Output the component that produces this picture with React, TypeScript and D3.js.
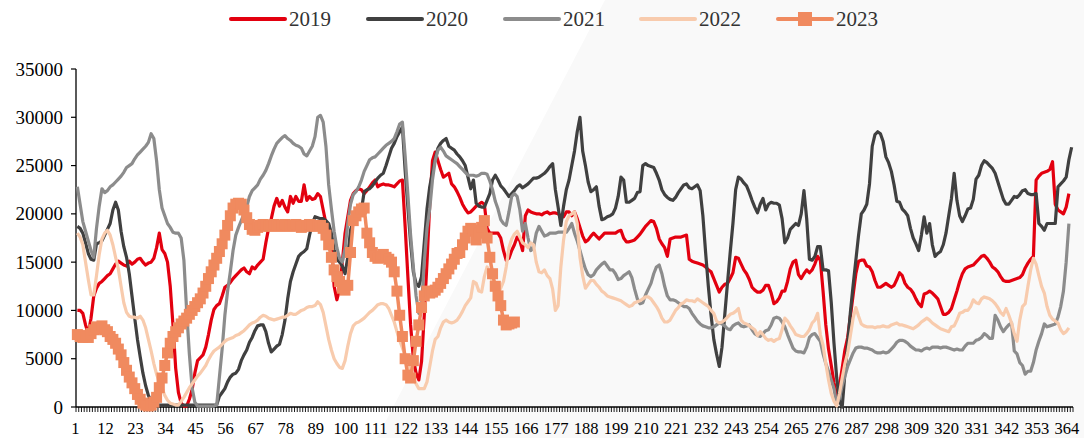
import React from 'react';
import * as d3 from 'd3';

// ---------- data (values in thousands, per day of year) ----------
const UNIT = 1000;
const DAY_COUNT = 365;
const X_TICK_DAYS = [1, 12, 23, 34, 45, 56, 67, 78, 89, 100, 111, 122, 133, 144, 155, 166, 177, 188, 199, 210, 221, 232, 243, 254, 265, 276, 287, 298, 309, 320, 331, 342, 353, 364];
const Y_TICKS = [0, 5000, 10000, 15000, 20000, 25000, 30000, 35000];
const SERIES_NAMES = ['2019', '2020', '2021', '2022', '2023'];

const V2019 = [
  10.0,10.0,9.7,8.5,7.6,9.2,11.5,12.3,12.8,13.0,
  13.3,13.6,13.8,14.3,14.8,15.1,14.9,14.7,14.6,15.1,
  14.8,15.0,15.3,15.4,15.0,14.7,14.9,15.0,15.4,16.5,
  18.0,16.3,15.9,15.0,12.5,8.5,4.0,1.5,0.4,0.1,
  0.1,0.8,1.8,3.5,4.8,5.1,5.4,6.2,7.5,9.0,
  10.1,10.5,10.7,11.5,12.4,12.6,12.9,13.3,13.6,13.9,
  14.2,14.4,14.0,13.8,14.5,14.3,14.7,15.0,15.3,17.0,
  18.5,19.5,20.8,21.6,20.8,21.4,20.7,20.2,21.8,21.1,
  21.8,21.3,21.3,23.0,21.4,21.8,21.5,21.6,22.1,21.8,
  20.4,19.0,18.6,17.0,12.5,11.1,12.2,15.0,18.0,19.7,
  21.4,22.1,22.4,22.6,22.5,22.1,22.4,22.8,23.2,23.5,
  22.8,23.0,23.1,23.0,23.0,22.9,22.8,23.1,23.4,23.5,
  18.7,13.5,8.5,5.0,3.5,2.8,4.7,9.5,15.0,21.0,
  25.5,26.4,25.5,24.6,23.8,24.0,24.2,23.1,22.8,22.3,
  21.7,21.0,20.5,20.1,20.2,20.5,20.8,21.0,21.2,21.0,
  18.5,18.0,18.0,18.0,18.0,17.5,16.2,15.2,15.4,16.2,
  16.8,17.6,17.2,16.2,19.8,20.4,20.2,20.1,20.0,20.0,
  19.9,20.1,20.2,20.0,20.1,20.1,20.0,19.8,19.7,20.2,
  20.2,19.8,20.2,19.5,18.6,17.7,17.1,17.3,17.7,18.0,
  17.7,17.4,17.7,18.0,18.0,18.0,18.0,18.0,18.2,18.3,
  17.5,17.1,17.1,17.2,17.3,17.6,17.9,18.3,18.7,19.0,
  19.3,19.2,18.5,17.4,16.9,16.5,15.6,17.4,17.5,17.6,
  17.6,17.6,17.7,17.8,15.3,15.1,15.0,14.9,14.8,14.7,
  14.5,14.2,14.0,13.3,12.6,11.9,12.4,12.7,12.8,13.3,
  13.9,15.5,15.4,14.8,14.2,13.8,13.2,12.4,12.1,11.9,
  11.9,12.1,12.6,12.6,11.8,10.7,10.9,11.3,12.0,12.0,
  13.0,14.3,15.0,15.2,13.7,13.3,13.8,14.2,13.9,14.2,
  14.8,15.6,15.2,12.0,8.5,6.0,4.3,2.5,1.2,2.2,
  4.0,5.9,7.2,9.4,11.6,13.8,15.1,15.2,15.2,14.6,
  14.5,14.0,13.1,12.4,12.4,12.6,12.8,12.6,12.4,12.6,
  13.2,13.9,13.6,12.8,12.4,12.2,11.8,11.2,10.7,10.4,
  11.7,11.8,12.0,11.8,11.5,11.2,10.4,9.6,9.6,9.8,
  10.2,11.1,12.0,13.0,13.8,14.3,14.5,14.6,14.7,15.0,
  15.3,15.6,15.7,15.4,15.0,14.5,14.3,14.0,13.5,13.1,
  13.0,13.0,13.1,13.2,13.3,13.4,13.7,14.4,14.9,15.3,
  15.6,23.5,23.9,24.2,24.3,24.4,24.6,25.4,21.0,20.4,
  20.2,20.0,20.7,22.1,
];

const V2020 = [
  18.7,18.5,18.0,17.0,15.9,15.3,15.2,16.9,17.0,17.2,
  17.8,18.4,19.0,20.4,21.2,20.4,18.2,16.6,15.5,13.8,
  11.5,9.2,7.0,5.2,3.5,2.2,1.2,0.6,0.3,0.2,
  0.2,0.2,0.2,0.2,0.2,0.2,0.2,0.2,0.2,0.2,
  0.2,0.2,0.2,0.2,0.2,0.2,0.2,0.2,0.2,0.2,
  0.2,0.2,1.1,1.5,1.9,2.6,3.1,3.4,3.5,3.9,
  4.8,5.4,5.9,6.7,7.2,7.9,8.4,8.5,8.5,7.8,
  6.6,5.7,6.0,6.3,6.5,7.5,9.0,11.2,13.0,14.0,
  14.8,15.6,15.9,16.1,16.4,17.8,19.0,19.7,19.6,19.5,
  19.5,19.3,19.0,18.0,16.3,15.3,15.0,14.6,13.8,15.5,
  18.3,19.3,20.0,20.2,20.4,22.3,22.5,22.6,22.9,23.3,
  23.7,24.0,24.2,25.0,25.9,26.8,27.3,28.0,28.5,29.0,
  24.5,20.7,17.0,14.0,12.8,12.5,13.5,17.0,20.5,22.8,
  24.3,25.7,26.8,27.3,27.6,27.8,27.0,26.8,26.6,26.2,
  25.9,25.5,25.0,23.8,22.6,23.5,21.1,20.8,20.7,20.7,
  21.4,22.1,23.5,24.0,23.5,22.9,22.6,22.2,21.8,22.1,
  22.4,22.8,23.0,22.7,22.9,23.1,23.4,23.7,23.7,23.8,
  24.0,24.2,24.5,24.9,25.2,22.5,20.7,18.8,20.8,22.5,
  23.5,25.0,26.5,28.5,30.0,26.5,25.0,23.3,22.3,22.5,
  22.8,20.8,19.4,19.5,19.7,19.8,20.0,20.6,21.8,23.8,
  23.5,21.2,21.2,21.4,21.6,22.2,22.3,25.0,25.2,25.0,
  24.9,24.8,24.2,23.5,22.5,22.0,21.7,21.5,21.4,21.7,
  22.2,22.6,23.0,23.1,22.7,22.6,22.8,23.0,22.4,19.8,
  16.0,12.5,9.5,7.0,5.5,4.2,6.2,9.5,12.8,16.0,
  19.0,22.5,23.8,23.6,23.2,22.9,22.2,21.4,20.7,20.1,
  21.0,21.6,20.4,21.0,21.2,21.1,21.1,20.9,19.5,17.0,
  17.5,18.4,18.7,19.0,18.8,20.0,22.4,19.5,15.3,15.2,
  15.6,16.6,16.6,14.2,14.2,14.1,10.8,6.6,3.0,0.6,
  0.0,3.5,6.5,9.8,12.6,15.2,17.8,20.0,20.4,21.0,
  23.1,27.0,28.2,28.5,28.3,27.5,25.9,25.3,24.4,23.0,
  21.3,21.2,20.5,20.2,19.8,18.5,17.5,16.9,16.2,17.8,
  19.7,18.0,19.0,16.8,15.6,15.9,16.1,16.8,18.0,19.8,
  21.6,24.2,21.4,19.8,19.2,19.8,20.5,20.6,21.5,23.6,
  24.0,25.0,25.5,25.3,25.0,24.7,24.2,23.3,22.4,21.5,
  21.0,21.0,21.4,21.8,21.7,22.0,22.4,22.5,22.1,22.0,
  22.0,22.1,19.0,18.7,18.3,19.0,19.0,19.0,19.0,22.8,
  23.1,23.4,23.8,25.6,26.9,
];

const V2021 = [
  22.8,21.0,19.2,18.2,17.2,16.2,15.5,18.5,20.8,22.6,
  22.2,22.4,22.8,23.0,23.3,23.6,23.9,24.3,24.8,25.0,
  25.2,25.7,26.1,26.4,26.7,27.0,27.4,28.3,27.8,25.5,
  22.5,20.6,19.8,19.0,18.6,18.1,18.0,18.0,17.5,15.2,
  10.0,5.5,2.0,0.5,0.1,0.1,0.1,0.1,0.1,0.1,
  0.1,0.2,3.1,6.0,9.5,12.0,14.0,16.2,17.8,18.6,
  19.3,20.0,20.7,21.8,22.4,22.7,23.0,23.6,24.0,24.5,
  25.2,26.0,26.7,27.3,27.6,27.9,28.1,27.8,27.6,27.3,
  27.1,27.0,26.8,26.2,26.0,26.5,27.0,28.0,30.0,30.2,
  29.5,27.0,23.0,20.5,18.2,16.5,15.4,15.0,16.4,19.0,
  21.0,22.0,22.3,22.8,23.5,24.4,25.0,25.6,25.8,25.9,
  26.2,26.5,26.8,27.1,27.3,27.5,27.8,28.5,29.3,29.5,
  26.0,22.0,17.8,14.5,11.5,9.7,10.5,15.0,18.5,20.5,
  23.5,25.5,26.6,26.9,26.5,26.0,25.8,25.6,25.4,25.2,
  24.9,24.6,24.3,24.0,24.0,24.0,23.9,24.0,24.2,24.2,
  24.1,23.4,22.5,21.3,20.5,19.4,19.0,18.8,20.2,21.8,
  22.1,21.8,20.4,18.2,19.0,17.5,16.2,16.5,18.0,18.7,
  18.2,17.7,17.8,18.0,18.0,18.0,18.1,18.1,18.1,18.1,
  18.5,19.0,18.0,17.2,16.2,15.2,14.3,13.7,13.5,13.7,
  14.2,14.5,14.8,15.0,14.6,14.2,14.2,13.8,13.2,13.3,
  13.6,13.8,14.0,13.4,12.2,11.2,10.7,10.8,11.6,12.2,
  12.8,13.8,14.5,14.7,13.8,12.5,11.5,11.1,11.1,11.0,
  10.8,10.6,10.4,10.4,10.2,9.7,9.3,8.9,8.6,8.4,
  8.3,8.2,8.2,8.3,8.5,8.7,8.6,8.4,8.1,8.0,
  8.4,8.6,8.7,8.4,8.3,8.4,8.5,8.0,7.6,7.4,
  7.3,7.6,7.9,8.0,8.5,9.2,9.3,9.2,8.8,8.3,
  7.5,6.8,6.1,5.8,5.7,5.7,5.6,6.2,7.2,7.5,
  7.6,7.2,6.8,5.5,4.5,3.7,2.8,1.9,0.3,0.9,
  2.2,3.2,4.2,4.9,5.6,6.1,6.2,6.2,6.1,6.1,
  6.0,5.9,5.7,5.6,5.6,5.7,5.6,5.7,6.0,6.3,
  6.7,6.9,6.9,6.8,6.6,6.3,6.1,5.9,5.9,5.8,
  6.0,6.1,6.0,6.2,6.2,6.2,6.1,6.2,6.2,6.1,
  6.0,5.9,6.0,5.9,5.9,6.3,6.6,6.6,6.6,6.9,
  7.0,7.2,7.6,7.4,7.1,7.1,9.5,9.0,8.3,7.8,
  8.2,8.5,8.7,5.8,5.5,4.6,4.3,3.4,3.7,3.7,
  4.6,5.9,6.8,7.6,8.6,8.3,8.4,8.5,8.6,9.3,
  10.4,12.0,15.0,19.0,
];

const V2022 = [
  18.0,17.6,16.8,15.0,13.2,11.6,11.6,13.6,15.8,17.4,
  18.0,18.3,17.8,16.8,15.5,14.3,12.5,10.8,9.8,9.4,
  9.3,9.3,9.2,9.4,9.0,8.2,7.0,5.8,4.5,3.4,
  2.6,2.0,1.2,0.7,0.4,0.3,0.2,0.2,0.6,1.0,
  1.5,2.0,2.4,2.8,3.2,3.5,3.9,4.3,4.9,5.4,
  5.8,6.0,6.2,6.5,6.8,7.0,7.1,7.2,7.4,7.5,
  7.7,7.9,8.2,8.5,8.7,8.8,9.0,9.3,9.5,9.4,
  9.2,9.1,9.0,9.1,9.2,9.3,9.3,9.5,9.7,9.6,
  9.6,9.8,10.0,10.1,10.3,10.4,10.4,10.5,10.9,10.6,
  9.8,8.4,7.0,5.9,5.0,4.5,4.1,4.0,4.8,6.3,
  7.6,8.4,8.7,8.8,9.0,9.2,9.5,9.8,10.0,10.3,
  10.6,10.7,10.7,10.6,10.2,9.5,8.8,7.8,6.9,6.1,
  5.4,4.5,3.8,3.0,2.4,1.9,1.9,1.9,2.6,4.2,
  5.8,7.0,7.3,8.2,8.8,9.0,8.8,8.7,8.8,9.0,
  9.4,9.9,10.5,10.9,11.3,13.0,12.8,12.0,11.9,13.5,
  14.5,13.8,12.8,12.0,11.8,12.3,13.0,14.5,16.5,17.4,
  17.9,18.2,17.6,17.0,16.8,16.5,17.0,16.8,15.0,14.0,
  13.9,14.2,13.6,13.3,12.2,10.0,10.5,14.5,17.3,19.2,
  19.8,20.0,20.2,19.0,15.5,13.6,12.3,12.7,13.1,13.1,
  12.7,12.4,12.0,11.8,11.5,11.4,11.3,11.2,11.1,11.0,
  10.8,10.6,10.4,10.5,10.8,10.9,11.0,11.2,11.4,11.4,
  11.2,10.8,10.4,9.9,9.2,8.8,8.8,9.0,9.5,10.0,
  10.3,10.7,10.8,11.1,11.0,11.0,10.9,11.2,11.0,10.8,
  10.6,10.4,10.0,9.7,8.9,8.7,8.8,9.0,9.3,9.6,
  9.7,9.9,10.2,9.0,8.7,8.6,8.4,8.2,8.0,7.4,
  7.8,7.5,7.1,6.9,7.0,6.8,7.0,7.1,8.0,9.2,
  8.9,8.4,8.0,7.5,7.4,7.3,7.3,7.6,8.0,8.7,
  9.0,9.7,7.5,6.4,4.5,2.8,1.4,0.6,0.1,1.4,
  3.0,4.5,5.6,7.4,9.2,10.3,9.4,8.6,8.4,8.3,
  8.3,8.3,8.2,8.3,8.3,8.4,8.3,8.3,8.5,8.6,
  8.7,8.5,8.5,8.4,8.3,8.2,8.1,8.3,8.5,8.8,
  9.0,9.2,9.0,8.7,8.5,8.3,8.1,8.0,7.9,7.8,
  8.3,8.4,9.0,9.7,9.8,10.0,10.0,10.4,11.1,10.8,
  10.7,11.2,11.4,11.3,11.2,11.0,10.7,10.3,9.8,9.5,
  10.2,9.5,8.7,7.6,6.8,9.0,10.4,10.7,12.5,14.2,
  15.4,14.8,13.6,12.5,11.8,10.4,9.5,9.1,8.9,8.7,
  8.0,7.6,7.8,8.2,
];

const V2023 = [
  7.5,7.3,7.2,7.4,7.2,7.6,8.0,8.3,8.1,8.4,
  8.0,7.8,7.3,7.0,6.6,6.0,5.4,4.6,3.8,3.1,
  2.5,1.9,1.3,0.8,0.4,0.2,0.1,0.2,0.5,1.0,
  2.0,3.0,4.3,5.6,6.6,7.3,7.8,8.2,8.6,8.9,
  9.2,9.6,10.0,10.4,10.8,11.2,11.8,12.5,13.3,14.0,
  14.7,15.4,16.1,16.9,17.8,18.8,19.8,20.6,21.0,21.1,
  21.0,20.4,19.6,18.9,18.4,18.3,18.6,18.8,18.9,18.8,
  18.7,18.8,18.9,18.8,18.7,18.8,18.9,18.8,18.7,18.8,
  18.9,18.8,18.6,18.7,18.8,18.9,18.8,18.7,18.8,18.8,
  18.5,17.8,16.8,15.5,14.2,13.5,13.0,12.3,12.1,12.6,
  16.0,19.3,19.8,20.2,20.5,20.6,18.0,17.0,16.0,15.6,
  15.4,15.5,15.8,15.5,15.3,15.0,14.0,12.0,9.5,7.3,
  5.0,3.3,3.0,4.8,6.8,8.5,10.3,11.5,12.0,11.8,
  11.9,12.1,12.4,12.8,13.3,13.8,14.3,14.8,15.3,15.9,
  16.0,16.8,17.5,18.2,18.5,18.3,17.3,18.0,18.6,19.3,
  17.5,15.5,13.8,12.5,11.5,10.5,9.0,8.5,8.6,8.7,
  8.8,
];

const SERIES_VALUES = [V2019, V2020, V2021, V2022, V2023];
const SERIES_COLORS = ['#e3000f', '#404040', '#8c8c8c', '#f8cbad', '#f08a5f'];

// ---------- layout ----------
const W = 1084;
const H = 438;
const PLOT_LEFT = 76;
const PLOT_RIGHT = 1073;
const PLOT_TOP = 69;
const PLOT_BOTTOM = 407;
const MARKER = 11;
const SERIF = "'Liberation Serif', 'Times New Roman', serif";

export default function App() {
  const days = d3.range(1, DAY_COUNT + 1);
  const x = d3.scaleBand<number>().domain(days).range([PLOT_LEFT, PLOT_RIGHT]);
  const bw = x.bandwidth();
  const cx = (d: number) => (x(d) ?? 0) + bw / 2;
  const y = d3.scaleLinear().domain([0, 35000]).range([PLOT_BOTTOM, PLOT_TOP]);

  const line = d3
    .line<number>()
    .x((_, i) => cx(i + 1))
    .y((v) => y(v * UNIT));

  const legendStarts = [231, 368, 505, 641, 778];

  return (
    <svg
      width={W}
      height={H}
      style={{ position: 'absolute', left: 0, top: 0, background: '#ffffff' }}
    >
      {/* watermark-like light background band */}
      <polygon points={`605,0 ${W},0 ${W},${H} 377,${H}`} fill="#f9f9f9" />

      {/* y axis */}
      <line x1={PLOT_LEFT} x2={PLOT_LEFT} y1={PLOT_TOP} y2={PLOT_BOTTOM} stroke="#000" strokeWidth={1.3} />
      {Y_TICKS.map((t) => (
        <g key={t}>
          <line x1={PLOT_LEFT - 5} x2={PLOT_LEFT} y1={y(t)} y2={y(t)} stroke="#000" strokeWidth={1.2} />
          <text
            x={PLOT_LEFT - 13}
            y={y(t)}
            textAnchor="end"
            dominantBaseline="central"
            fontFamily={SERIF}
            fontSize={19}
            fill="#000"
          >
            {t}
          </text>
        </g>
      ))}

      {/* x axis */}
      <line x1={PLOT_LEFT} x2={PLOT_RIGHT} y1={PLOT_BOTTOM} y2={PLOT_BOTTOM} stroke="#000" strokeWidth={1.5} />
      {days.map((d) => (
        <line
          key={d}
          x1={x(d) ?? 0}
          x2={x(d) ?? 0}
          y1={PLOT_BOTTOM}
          y2={PLOT_BOTTOM + 5}
          stroke="#000"
          strokeWidth={0.9}
        />
      ))}
      <line x1={PLOT_RIGHT} x2={PLOT_RIGHT} y1={PLOT_BOTTOM} y2={PLOT_BOTTOM + 5} stroke="#000" strokeWidth={0.9} />
      {X_TICK_DAYS.map((d) => (
        <text
          key={d}
          x={cx(d) - 2}
          y={428}
          textAnchor="middle"
          dominantBaseline="central"
          fontFamily={SERIF}
          fontSize={16.5}
          fill="#000"
        >
          {d}
        </text>
      ))}

      {/* series */}
      {SERIES_VALUES.map((vals, si) => (
        <path
          key={SERIES_NAMES[si]}
          d={line(vals) ?? ''}
          fill="none"
          stroke={SERIES_COLORS[si]}
          strokeWidth={si === 4 ? 3.5 : 3.2}
          strokeLinejoin="round"
        />
      ))}
      {V2023.map((v, i) => (
        <rect
          key={i}
          x={cx(i + 1) - MARKER / 2}
          y={y(v * UNIT) - MARKER / 2}
          width={MARKER}
          height={MARKER}
          fill={SERIES_COLORS[4]}
        />
      ))}

      {/* legend */}
      {SERIES_NAMES.map((name, i) => {
        const x0 = legendStarts[i];
        return (
          <g key={name}>
            <line x1={x0} x2={x0 + 54} y1={19} y2={19} stroke={SERIES_COLORS[i]} strokeWidth={4} strokeLinecap="round" />
            {i === 4 && <rect x={x0 + 20} y={12} width={14} height={14} fill={SERIES_COLORS[4]} />}
            <text x={x0 + 58} y={19} dominantBaseline="central" fontFamily={SERIF} fontSize={21} fill="#333">
              {name}
            </text>
          </g>
        );
      })}
    </svg>
  );
}
